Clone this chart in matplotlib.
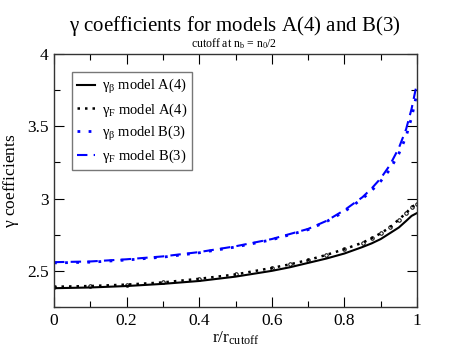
import numpy as np
import matplotlib
matplotlib.use("Agg")
import matplotlib.pyplot as plt
from matplotlib.ticker import MultipleLocator

# values
r = [0.0, 0.1, 0.2, 0.3, 0.4, 0.5, 0.6, 0.65, 0.7, 0.75, 0.8, 0.85, 0.875, 0.9, 0.925, 0.95, 0.97, 0.985, 1.0]
gb_A4 = [2.38, 2.385, 2.395, 2.41, 2.43, 2.46, 2.50, 2.525, 2.555, 2.585, 2.62, 2.665, 2.69, 2.72, 2.76, 2.80, 2.845, 2.88, 2.90]
gF_A4 = [2.39, 2.395, 2.405, 2.42, 2.445, 2.475, 2.52, 2.545, 2.575, 2.61, 2.65, 2.695, 2.725, 2.76, 2.80, 2.855, 2.90, 2.94, 2.965]
gb_B3 = [2.555, 2.56, 2.575, 2.595, 2.625, 2.665, 2.715, 2.75, 2.785, 2.84, 2.91, 3.00, 3.055, 3.12, 3.20, 3.31, 3.43, 3.56, 3.73]
gF_B3 = [2.56, 2.565, 2.58, 2.60, 2.63, 2.67, 2.72, 2.755, 2.79, 2.845, 2.92, 3.01, 3.07, 3.14, 3.23, 3.35, 3.48, 3.62, 3.80]

plt.rcParams['font.family'] = ['Liberation Serif', 'DejaVu Serif']
plt.rcParams['mathtext.fontset'] = 'custom'
plt.rcParams['mathtext.rm'] = 'Liberation Serif'
plt.rcParams['mathtext.it'] = 'Liberation Serif'
plt.rcParams['mathtext.bf'] = 'Liberation Serif'

fig = plt.figure(figsize=(4.69, 3.62), dpi=100)
ax = fig.add_axes([54/469, 1 - 307/362, 363/469, 253/362])

ax.plot(r, gb_A4, color='black', lw=1.5, label=r'$\gamma_\beta$ model A(4)')
ax.plot(r, gF_A4, color='black', lw=1.8, ls=(0, (1, 2)), label=r'$\gamma_F$ model A(4)')
ax.plot(r, gF_A4, color='black', lw=0, marker='o', ms=2.5, mfc='none', mew=0.7)
ax.plot(r, gb_B3, color='blue', lw=2, ls=(0, (1, 3)), label=r'$\gamma_\beta$ model B(3)')
ax.plot(r, gF_B3, color='blue', lw=1.5, ls=(0, (5, 3)), label=r'$\gamma_F$ model B(3)')

ax.set_xlim(0, 1)
ax.set_ylim(2.25, 4)
ax.xaxis.set_minor_locator(MultipleLocator(0.1))
ax.yaxis.set_minor_locator(MultipleLocator(0.25))
ax.set_xticks([0, 0.2, 0.4, 0.6, 0.8, 1])
ax.set_xticklabels(['0', '0.2', '0.4', '0.6', '0.8', '1'])
ax.set_yticks([2.5, 3, 3.5, 4])
ax.set_yticklabels(['2.5', '3', '3.5', '4'])
ax.tick_params(which='both', direction='in', top=True, right=True)
ax.tick_params(which='major', length=7, width=0.8, labelsize=12.5, pad=4)
ax.tick_params(which='minor', length=4, width=0.8)
for s in ax.spines.values():
    s.set_color('#333333')
    s.set_linewidth(1)

ax.set_xlabel(r'r/r$_{\rm cutoff}$', fontsize=12.5, labelpad=1)
ax.set_ylabel(r'$\gamma$ coefficients', fontsize=12.5, labelpad=4)

fig.text(0.5, 1 - 26/362, r'$\gamma$ coefficients for models A(4) and B(3)',
         ha='center', va='center', fontsize=15)
fig.text(0.5, 1 - 44/362, r'cutoff at n$_{\rm b}$ = n$_0$/2',
         ha='center', va='center', fontsize=8.5)

leg = ax.legend(loc='upper left', bbox_to_anchor=(18/363, 1 - 18/253), fontsize=10.5,
                frameon=True, fancybox=False, borderaxespad=0, handlelength=1.2,
                handletextpad=0.5, labelspacing=0.35, borderpad=0.35)
leg.get_frame().set_edgecolor('#555555')
leg.get_frame().set_linewidth(1)

fig.savefig('out.png', dpi=100)
